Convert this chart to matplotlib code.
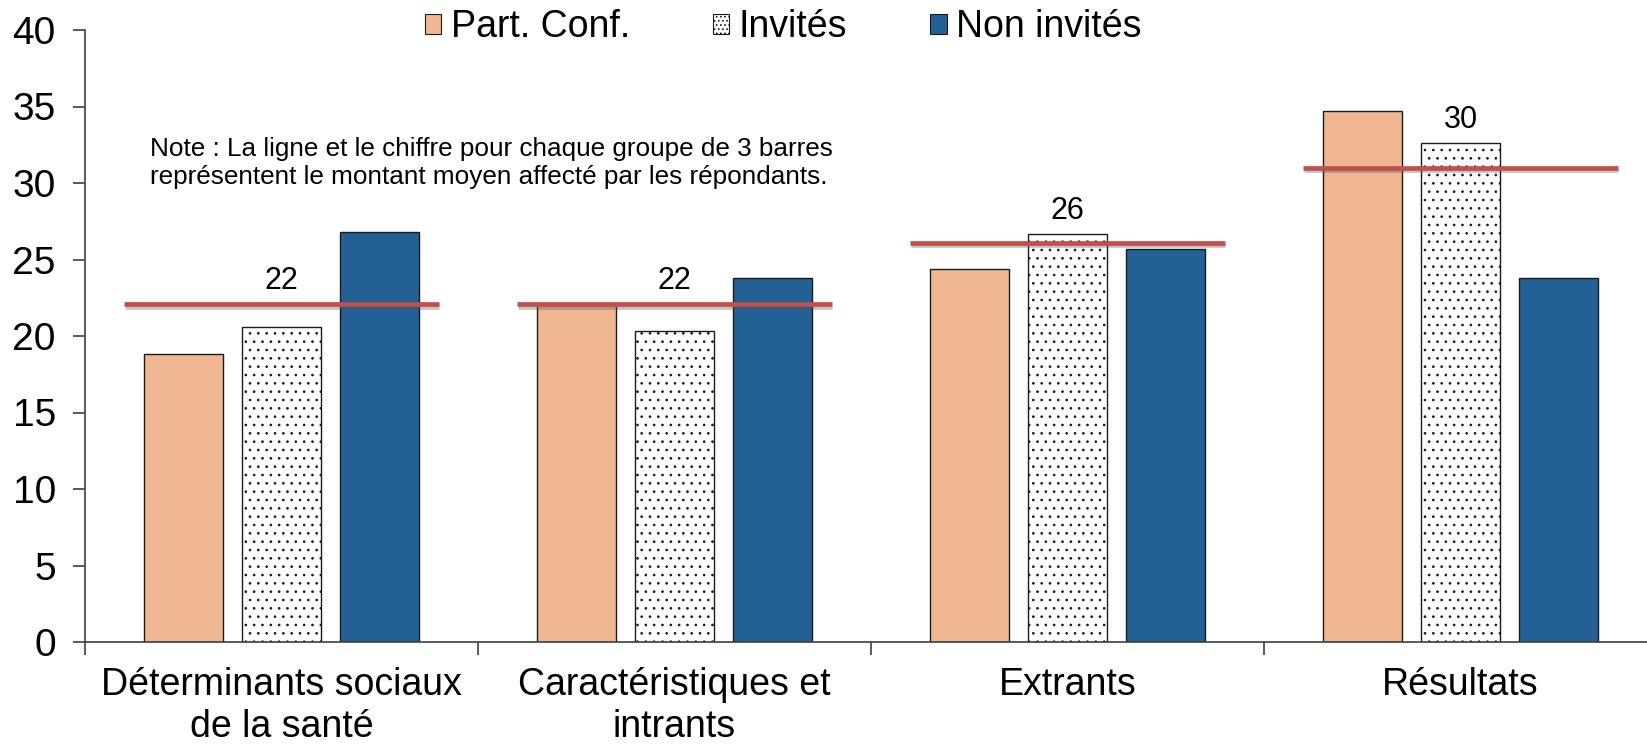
import matplotlib
matplotlib.use("Agg")
import matplotlib.pyplot as plt
import matplotlib.patheffects as pe
from matplotlib.patches import Patch
import numpy as np

plt.rcParams['font.family'] = ['Liberation Sans', 'DejaVu Sans']
plt.rcParams['hatch.color'] = '#333333'
plt.rcParams['hatch.linewidth'] = 0.7

categories = ["Déterminants sociaux\nde la santé", "Caractéristiques et\nintrants", "Extrants", "Résultats"]
series_names = ["Part. Conf.", "Invités", "Non invités"]
part_conf = [18.8, 22.0, 24.4, 34.7]
invites = [20.6, 20.3, 26.65, 32.6]
non_invites = [26.8, 23.8, 25.7, 23.8]
mean_line = [22.1, 22.1, 26.1, 31.0]
mean_labels = ["22", "22", "26", "30"]
yticks = [0, 5, 10, 15, 20, 25, 30, 35, 40]

fig = plt.figure(figsize=(16.47, 7.44), dpi=100)
left = 85 / 1647
right = 1657 / 1647
bottom = 102 / 744
top = 714 / 744
ax = fig.add_axes([left, bottom, right - left, top - bottom])

x = np.arange(len(categories))
w = 0.2
off = 0.25
ax.bar(x - off, part_conf, w, color='#EFB791', edgecolor='#1a1a1a', linewidth=1.0, zorder=2)
ax.bar(x, invites, w, color='white', edgecolor='#1a1a1a', linewidth=1.0, hatch='..', zorder=2)
ax.bar(x + off, non_invites, w, color='#236093', edgecolor='#1a1a1a', linewidth=1.0, zorder=2)

for i in range(len(categories)):
    ax.plot([x[i] - 0.4, x[i] + 0.4], [mean_line[i], mean_line[i]], color='#C0504D', lw=3.4,
            solid_capstyle='butt', zorder=3,
            path_effects=[pe.SimpleLineShadow(offset=(0.5, -2), shadow_color='#555555', alpha=0.35),
                          pe.Normal()])
    ytxt = max(mean_line[i], invites[i]) + 1.5
    ax.text(x[i], ytxt, mean_labels[i], ha='center', va='center', fontsize=22, zorder=4)

ax.set_xlim(-0.5, 3.5)
ax.set_ylim(0, 40)
ax.set_yticks(yticks)
ax.tick_params(axis='y', labelsize=28, length=9, width=1.2, color='#404040', pad=12)
ax.set_xticks(x)
ax.set_xticklabels(categories, fontsize=27)
ax.tick_params(axis='x', which='major', length=0, pad=18)
ax.set_xticks(np.arange(-0.5, 3.5, 1.0), minor=True)
ax.tick_params(axis='x', which='minor', length=9, width=1.2, color='#404040')
for s in ['top', 'right']:
    ax.spines[s].set_visible(False)
for s in ['left', 'bottom']:
    ax.spines[s].set_color('#404040')
    ax.spines[s].set_linewidth(1.2)

fig.text(150 / 1647, 1 - 163 / 744,
         "Note : La ligne et le chiffre pour chaque groupe de 3 barres\nreprésentent le montant moyen affecté par les répondants.",
         fontsize=18.8, va='center', ha='left', linespacing=1.25)

handles = [Patch(facecolor='#EFB791', edgecolor='#1a1a1a', linewidth=0.8),
           Patch(facecolor='white', edgecolor='#1a1a1a', linewidth=0.8, hatch='....'),
           Patch(facecolor='#236093', edgecolor='#1a1a1a', linewidth=0.8)]
fig.legend(handles, series_names, loc='center', bbox_to_anchor=(783 / 1647, 1 - 27 / 744), ncol=3,
           frameon=False, fontsize=27, handlelength=0.45, handleheight=0.45, handletextpad=0.25,
           columnspacing=2.2, borderaxespad=0)

fig.savefig("out.png", dpi=100)
